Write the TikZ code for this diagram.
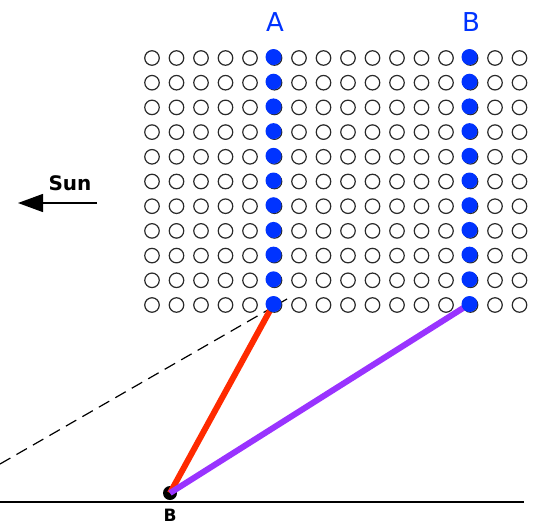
\documentclass[tikz,border=0pt]{standalone}
\usepackage{fontspec}
\setmainfont{DejaVu Sans}
\usetikzlibrary{arrows.meta,backgrounds}
\definecolor{dotblue}{HTML}{0033FF}
\definecolor{rayred}{HTML}{FF2A00}
\definecolor{raypurple}{HTML}{9933FF}
\definecolor{ring}{HTML}{2A2A2A}
\tikzset{
  hole/.style={circle,draw=ring,line width=1.2pt,fill=white,minimum size=14.5pt,inner sep=0pt},
  lit/.style={circle,fill=dotblue,minimum size=16pt,inner sep=0pt},
  ray/.style={line width=6pt},
}
\begin{document}
\begin{tikzpicture}[x=1pt,y=-1pt]
  \useasboundingbox (0,0) rectangle (537,525);
  % grid of holes
  \foreach \i in {0,...,15}{
    \foreach \j in {0,...,10}{
      \node[hole] (c-\i-\j) at (152+24.5*\i,58+24.7*\j) {};
    }
  }
  \foreach \j in {0,...,10}{
    \node[lit] (a-\j) at ([shift={(-1,-1)}]c-5-\j) {};
    \node[lit] (b-\j) at ([shift={(-1,-1)}]c-13-\j) {};
  }
  \node[text=dotblue,font=\fontsize{26}{26}\selectfont] (labA) at (275,22) {A};
  \node[text=dotblue,font=\fontsize{26}{26}\selectfont] (labB) at (471,22) {B};
  % sun direction
  \node[font=\bfseries\fontsize{20}{20}\selectfont] (sun) at (70,183) {Sun};
  \coordinate (sunR) at (97,203);
  \coordinate (sunL) at (18,203);
  \draw[-{Triangle[length=25pt,width=18pt]},line width=1.3pt] (sunR) -- (sunL);
  % ground and observer
  \coordinate (gndL) at (0,502);
  \coordinate (gndR) at (524,502);
  \coordinate (dashL) at (0,464);
  \coordinate (dashR) at (287,299);
  \node[font=\bfseries\fontsize{17}{17}\selectfont] (labObs) at (170,515) {B};
  \begin{scope}[on background layer]
    \draw[line width=1.5pt] (gndL) -- (gndR);
    \node[circle,fill=black,minimum size=14pt,inner sep=0pt] (obs) at (170,493) {};
    \draw[dash pattern=on 12pt off 7pt,line width=1.2pt] (dashL) -- (dashR);
    \draw[ray,rayred] (obs.center) -- (a-10.center);
    \draw[ray,raypurple] (obs.center) -- (b-10.center);
  \end{scope}
\end{tikzpicture}
\end{document}
